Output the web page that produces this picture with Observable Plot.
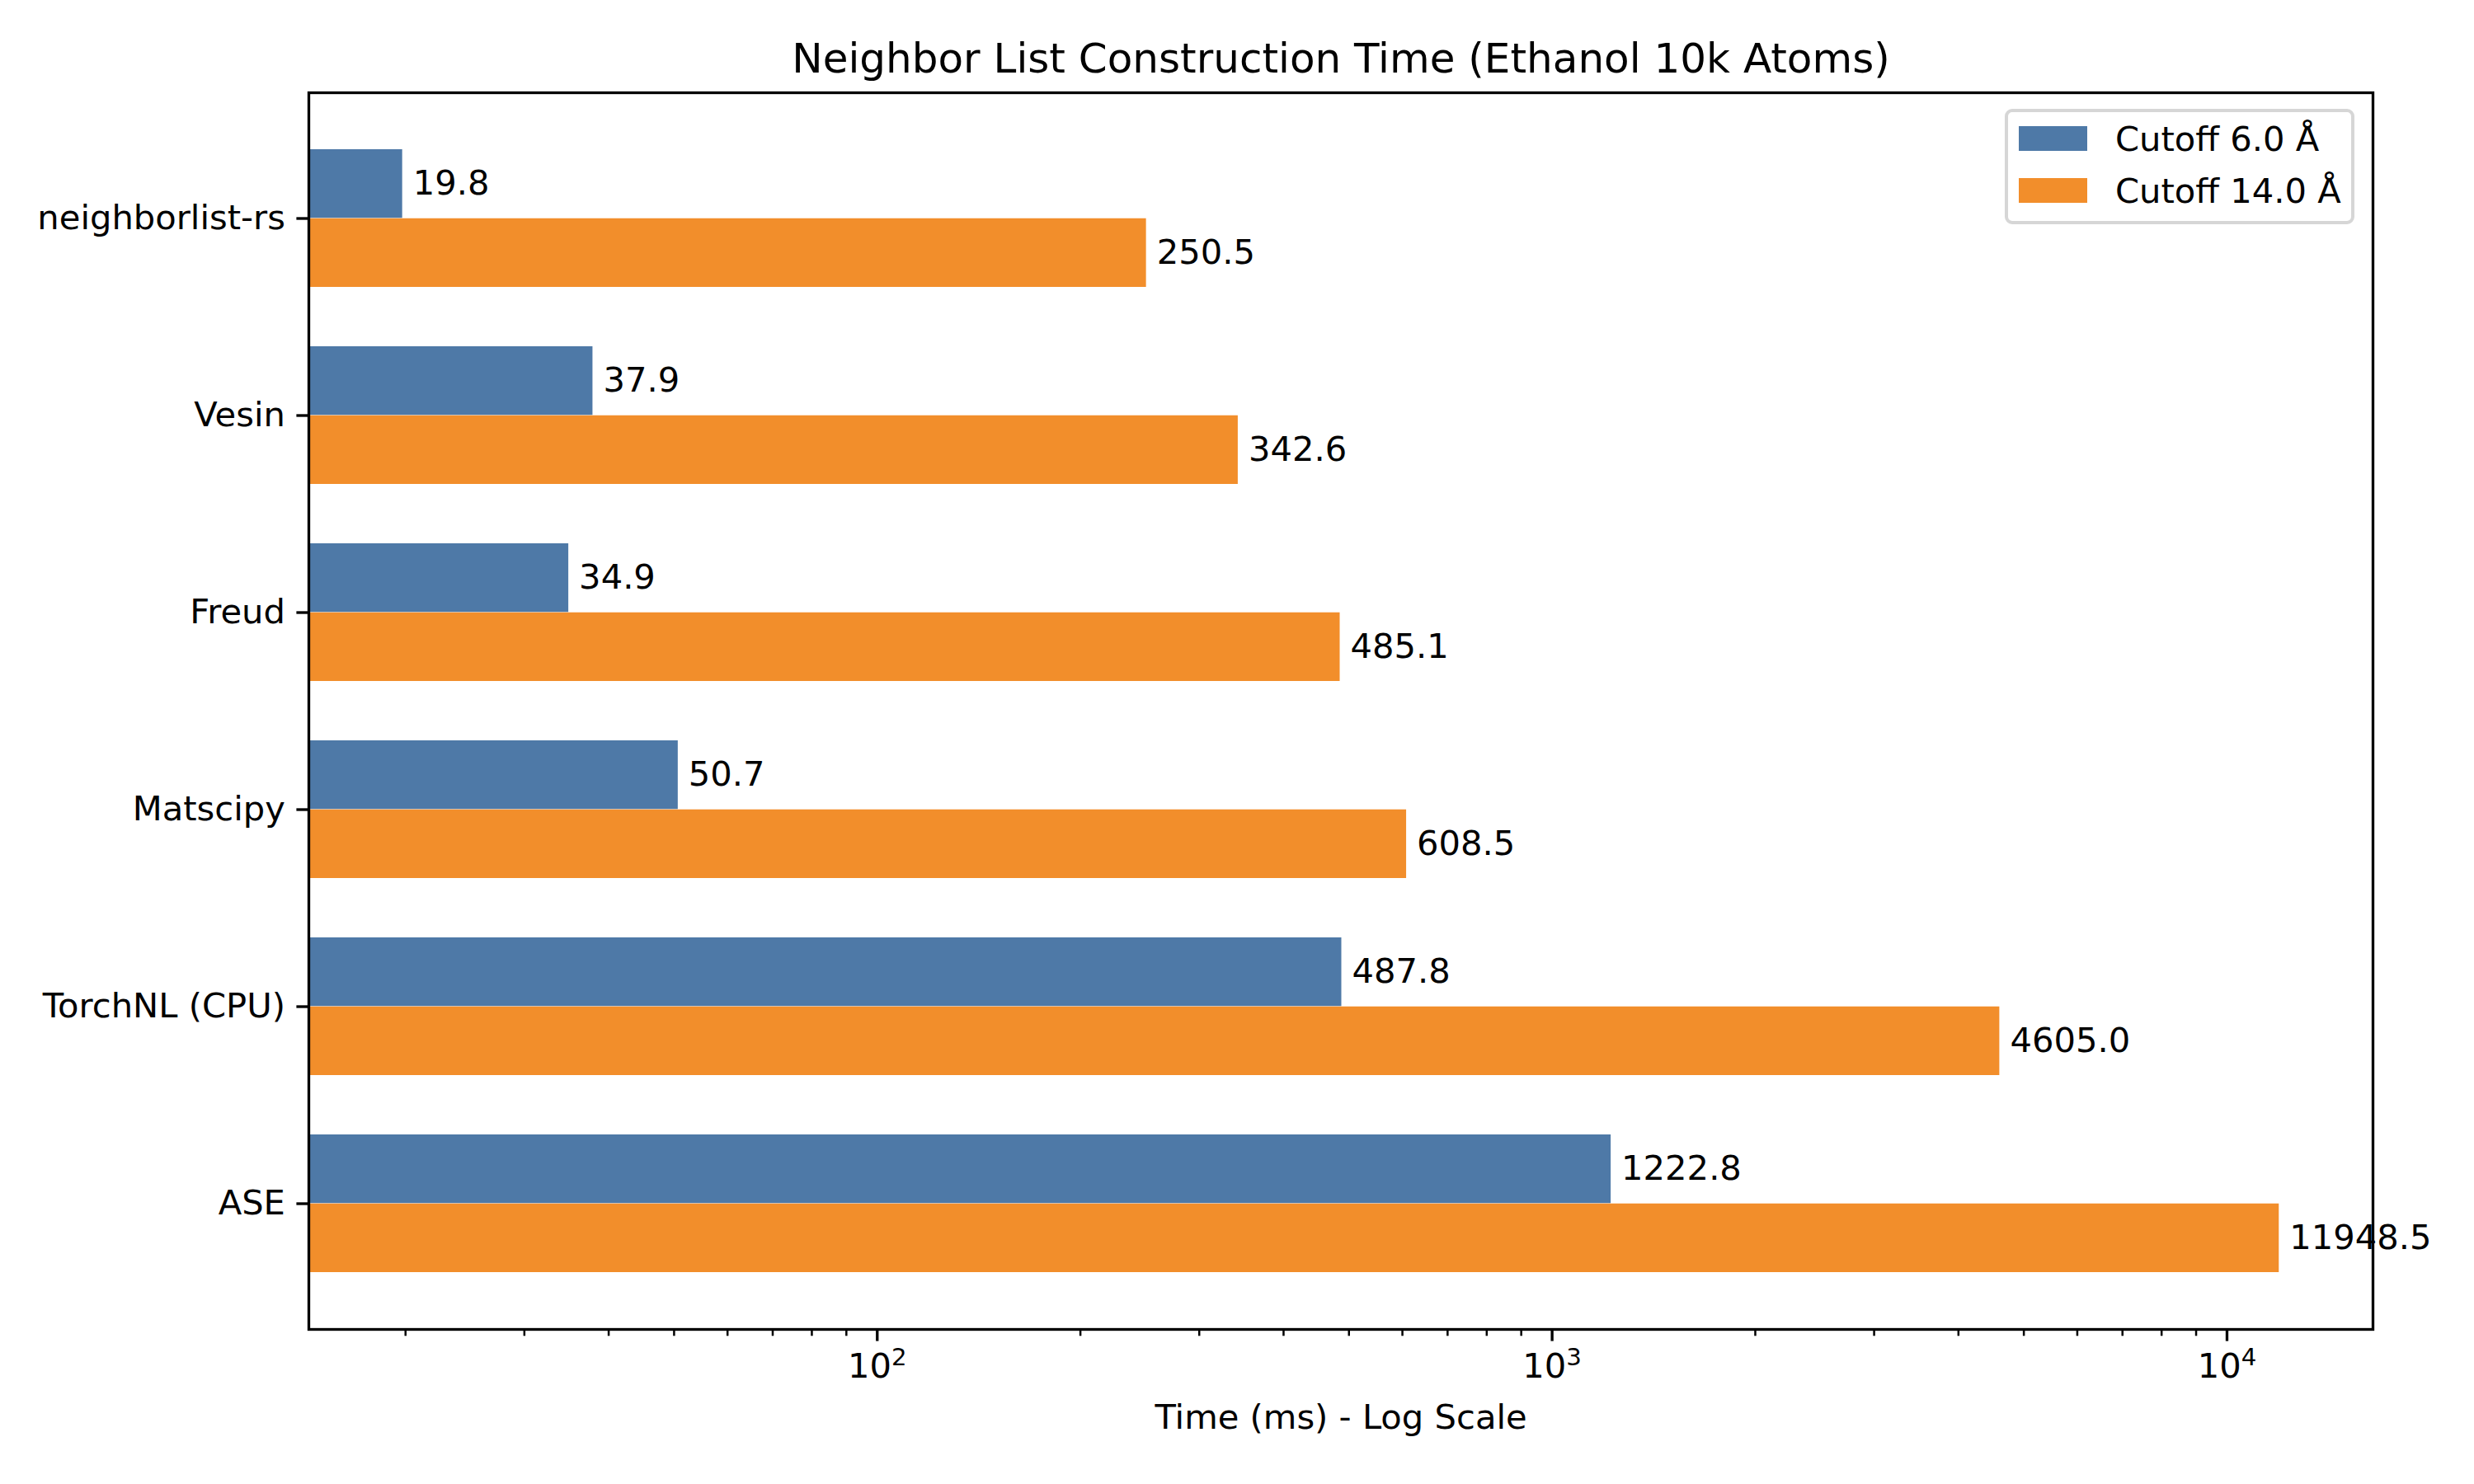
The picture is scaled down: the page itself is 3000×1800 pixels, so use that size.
<!DOCTYPE html>
<html>
<head>
<meta charset="utf-8">
<script src="https://cdn.jsdelivr.net/npm/d3@7"></script>
<script src="https://cdn.jsdelivr.net/npm/@observablehq/plot@0.6"></script>
<style>
  html, body { margin: 0; padding: 0; background: white; }
  #wrap { position: relative; width: 3000px; height: 1800px; font-family: "DejaVu Sans", sans-serif; }
  #wrap svg { position: absolute; left: 0; top: 0; }
  #legend { position: absolute; box-sizing: border-box; background: white;
            border: 4px solid #d6d6d6; border-radius: 9px; }
  .item { position: absolute; display: flex; align-items: center; font-size: 41.67px; color: black; white-space: nowrap; }
  .sw { display: inline-block; }
</style>
</head>
<body>
<div id="wrap"></div>
<script>
const categories = ["neighborlist-rs", "Vesin", "Freud", "Matscipy", "TorchNL (CPU)", "ASE"];
const cutoff6 = [19.8, 37.9, 34.9, 50.7, 487.8, 1222.8];
const cutoff14 = [250.5, 342.6, 485.1, 608.5, 4605.0, 11948.5];
const seriesNames = ["Cutoff 6.0 Å", "Cutoff 14.0 Å"];
const seriesColors = ["#4e79a7", "#f28e2b"];
const xMajorTicks = [100, 1000, 10000];
const xMinorTicks = [20, 30, 40, 50, 60, 70, 80, 90, 200, 300, 400, 500, 600, 700, 800, 900,
                     2000, 3000, 4000, 5000, 6000, 7000, 8000, 9000];
const xDomain = [14.38, 16455];
const titleText = "Neighbor List Construction Time (Ethanol 10k Atoms)";
const xLabelText = "Time (ms) - Log Scale";

const W = 3000, H = 1800;
const mL = 374, mR = 123, mT = 112, mB = 188;
const padInner = 0.3, padOuter = 0.285;
const plotH = H - mT - mB;
const step = plotH / (categories.length - padInner + 2 * padOuter);
const half = step * (1 - padInner) / 2;

const rows6 = categories.map((c, i) => ({cat: c, value: cutoff6[i]}));
const rows14 = categories.map((c, i) => ({cat: c, value: cutoff14[i]}));
const sup = {"0":"⁰","1":"¹","2":"²","3":"³","4":"⁴","5":"⁵","6":"⁶","7":"⁷","8":"⁸","9":"⁹"};
const fmtPow = d => "10" + String(Math.round(Math.log10(d))).split("").map(c => sup[c]).join("");

const chart = Plot.plot({
  width: W, height: H,
  marginLeft: mL, marginRight: mR, marginTop: mT, marginBottom: mB,
  style: {fontFamily: "DejaVu Sans", fontSize: "41.67px", background: "white", color: "black", overflow: "visible"},
  x: {type: "log", domain: xDomain},
  y: {type: "band", domain: categories, paddingInner: padInner, paddingOuter: padOuter, align: 0.5},
  marks: [
    Plot.barX(rows6, {y: "cat", x1: xDomain[0], x2: "value", fill: seriesColors[0], insetBottom: half}),
    Plot.barX(rows14, {y: "cat", x1: xDomain[0], x2: "value", fill: seriesColors[1], insetTop: half}),
    Plot.text(rows6, {y: "cat", x: "value", text: d => d.value.toFixed(1), textAnchor: "start", dx: 12.5, dy: -half / 2, fill: "black", fontSize: 41.67}),
    Plot.text(rows14, {y: "cat", x: "value", text: d => d.value.toFixed(1), textAnchor: "start", dx: 12.5, dy: half / 2, fill: "black", fontSize: 41.67}),
    Plot.axisX({ticks: xMinorTicks, tickSize: 8.3, strokeWidth: 2.5, tickFormat: () => "", label: null}),
    Plot.axisX({ticks: xMajorTicks, tickSize: 14.6, strokeWidth: 3.33, tickPadding: 14, tickFormat: fmtPow, label: null, fontSize: 41.67}),
    Plot.axisY({tickSize: 14.6, strokeWidth: 3.33, tickPadding: 14, label: null, fontSize: 41.67}),
    Plot.frame({stroke: "black", strokeWidth: 3.33}),
    Plot.text([titleText], {text: d => d, frameAnchor: "top", dy: -25, lineAnchor: "bottom", fontSize: 50, fill: "black"}),
    Plot.text([xLabelText], {text: d => d, frameAnchor: "bottom", dy: 91, lineAnchor: "top", fontSize: 41.67, fill: "black"})
  ]
});

// render the power-of-ten tick labels like matplotlib mathtext (superscript at 70% size)
const supInv = Object.fromEntries(Object.entries(sup).map(([k, v]) => [v, k]));
chart.querySelectorAll("text").forEach(t => {
  const s = t.textContent;
  if (/^10[⁰¹²³⁴⁵⁶⁷⁸⁹]+$/.test(s)) {
    const exp = s.slice(2).split("").map(c => supInv[c]).join("");
    t.textContent = "10";
    const ts = document.createElementNS("http://www.w3.org/2000/svg", "tspan");
    ts.setAttribute("font-size", "29.2");
    ts.setAttribute("dy", "-15");
    ts.textContent = exp;
    t.appendChild(ts);
  }
});

const wrap = document.getElementById("wrap");
wrap.appendChild(chart);

// legend (matplotlib-style, upper right inside axes)
const legend = document.createElement("div");
legend.id = "legend";
legend.style.left = "2431px"; legend.style.top = "132px";
legend.style.width = "424px"; legend.style.height = "140px";
wrap.appendChild(legend);
seriesNames.forEach((name, i) => {
  const item = document.createElement("div");
  item.className = "item";
  item.style.left = "13px";
  item.style.top = (i === 0 ? 0 : 63) + 17 + "px";
  item.style.height = "30px";
  const sw = document.createElement("span");
  sw.className = "sw";
  sw.style.width = "83px"; sw.style.height = "30px"; sw.style.background = seriesColors[i];
  sw.style.marginRight = "34px";
  const t = document.createElement("span");
  t.textContent = name;
  item.appendChild(sw); item.appendChild(t);
  legend.appendChild(item);
});
</script>
</body>
</html>
